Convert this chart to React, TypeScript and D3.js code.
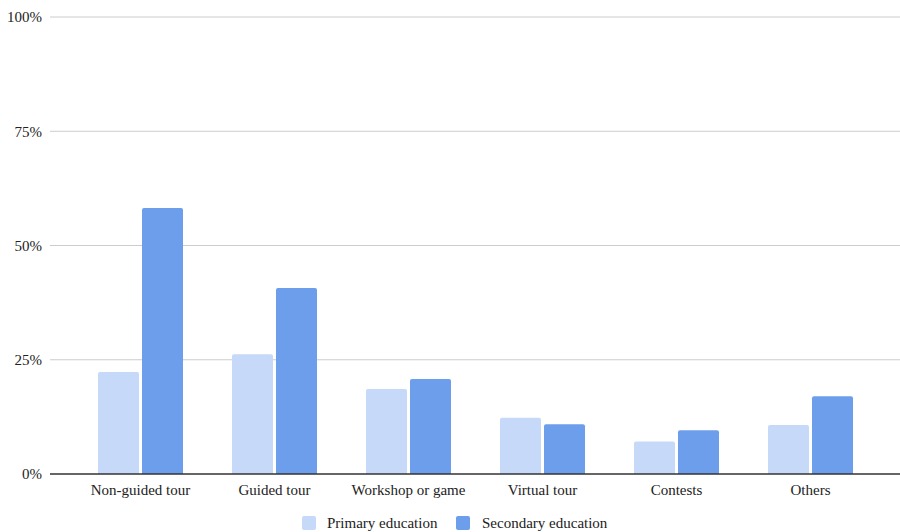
import React from "react";
import * as d3 from "d3";

const categories = ["Non-guided tour", "Guided tour", "Workshop or game", "Virtual tour", "Contests", "Others"];
const seriesNames = ["Primary education", "Secondary education"];
const primary = [22.3, 26.2, 18.6, 12.3, 7.1, 10.7];
const secondary = [58.2, 40.7, 20.8, 10.9, 9.6, 17.0];
const yTicks = [0, 25, 50, 75, 100];
const colors = ["#c6d9f8", "#6d9eeb"];

const W = 900;
const H = 532;

function topRoundedRect(x: number, y: number, w: number, h: number, r: number) {
  const rr = Math.min(r, h / 2, w / 2);
  return `M${x},${y + h}V${y + rr}Q${x},${y} ${x + rr},${y}H${x + w - rr}Q${x + w},${y} ${x + w},${y + rr}V${y + h}Z`;
}

export default function App() {
  const y = d3.scaleLinear().domain([0, 100]).range([474, 17]);
  const x = d3.scaleBand<string>().domain(categories).range([73.5, 877.5]).paddingInner(0).paddingOuter(0);
  const barW = 41;
  const gap = 3;
  const series = [primary, secondary];
  const font = "Liberation Serif";

  return (
    <svg width={W} height={H} style={{ position: "absolute", left: 0, top: 0, background: "#fff" }} fontFamily={font}>
      {yTicks.map((t) => (
        <g key={t}>
          {t !== 0 && <line x1={50} x2={900} y1={y(t)} y2={y(t)} stroke="#cccccc" strokeWidth={1} />}
          <text x={42} y={y(t)} dy="0.35em" textAnchor="end" fontSize={15} fill="#222">
            {t}%
          </text>
        </g>
      ))}
      {categories.map((c, i) => {
        const cx = (x(c) as number) + x.bandwidth() / 2;
        return (
          <g key={c}>
            {series.map((s, k) => {
              const bx = k === 0 ? cx - gap / 2 - barW : cx + gap / 2;
              const top = y(s[i]);
              return <path key={k} d={topRoundedRect(bx, top, barW, y(0) - top, 2)} fill={colors[k]} />;
            })}
            <text x={cx} y={495} textAnchor="middle" fontSize={15} fill="#222">
              {c}
            </text>
          </g>
        );
      })}
      <line x1={50} x2={900} y1={y(0)} y2={y(0)} stroke="#333" strokeWidth={1.5} />
      <g>
        <rect x={302} y={516} width={14} height={14} rx={2} fill={colors[0]} />
        <text x={327} y={528} fontSize={15} fill="#222">{seriesNames[0]}</text>
        <rect x={456} y={516} width={14} height={14} rx={2} fill={colors[1]} />
        <text x={482} y={528} fontSize={15} fill="#222">{seriesNames[1]}</text>
      </g>
    </svg>
  );
}
